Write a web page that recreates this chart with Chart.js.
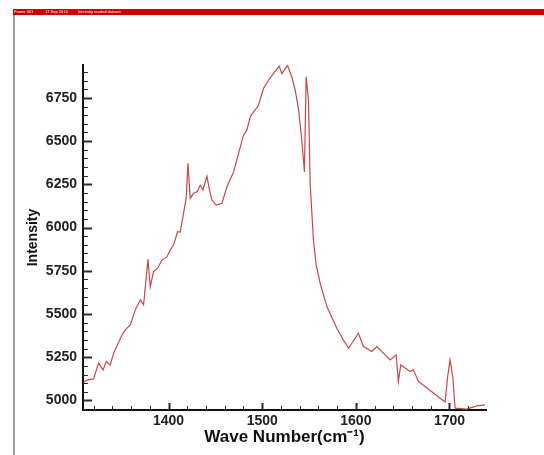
<!DOCTYPE html>
<html>
<head>
<meta charset="utf-8">
<script src="https://cdn.jsdelivr.net/npm/chart.js@4.4.1/dist/chart.umd.min.js"></script>
<style>
  html, body { margin: 0; padding: 0; background: #fff; }
  #wrap { position: relative; width: 544px; height: 455px; }
</style>
</head>
<body>
<div id="wrap"><canvas id="spectrumChart" width="544" height="455"></canvas></div>
<script>
// Spectrum data
const waveNumbers = [
  1309.2, 1313, 1319.9, 1325.2, 1330, 1333.5, 1337.7, 1341.3, 1350.2, 1353.7,
  1359.1, 1364.4, 1369.8, 1373.3, 1378, 1380.4, 1384, 1388.2, 1393, 1398.2,
  1401.8, 1405.3, 1409.6, 1412.4, 1415.3, 1418.8, 1420.7, 1423.1, 1426.6, 1430.3,
  1433.8, 1436.7, 1440.9, 1443.7, 1446.3, 1450.9, 1457, 1462.3, 1469.3, 1475.7,
  1480, 1483.6, 1487.2, 1490.7, 1496, 1501.4, 1506.7, 1512, 1518.1, 1521,
  1527, 1531.7, 1535.2, 1538.7, 1542.3, 1545.1, 1546.9, 1549.4, 1551.2, 1554.7,
  1557.6, 1561.9, 1569, 1579.7, 1586.7, 1592.1, 1595.7, 1602.7, 1608.1, 1617,
  1622.4, 1629.4, 1636.6, 1643, 1645.4, 1648, 1657.9, 1661.4, 1666.8, 1673.9,
  1682.8, 1695.3, 1698.1, 1700.6, 1703.5, 1706, 1718.4, 1729.1, 1737.9
]
const intensities = [
  5104, 5118, 5125, 5216, 5177, 5225, 5206, 5274, 5379, 5408,
  5437, 5524, 5582, 5553, 5816, 5658, 5745, 5765, 5812, 5830,
  5870, 5899, 5976, 5974, 6062, 6170, 6371, 6169, 6198, 6207,
  6245, 6217, 6297, 6217, 6159, 6130, 6140, 6236, 6320, 6448,
  6534, 6563, 6640, 6669, 6707, 6804, 6852, 6890, 6933, 6890,
  6938, 6871, 6794, 6688, 6505, 6322, 6871, 6736, 6255, 5928,
  5784, 5678, 5543, 5418, 5350, 5303, 5331, 5389, 5312, 5283,
  5312, 5274, 5235, 5264, 5110, 5206, 5167, 5177, 5110, 5081,
  5043, 4991, 5139, 5235, 5139, 4956, 4950, 4969, 4975
]

// Axis ticks
const xMajorTicks = [1400, 1500, 1600, 1700]
const xMinorStep = 20
const yMajorTicks = [5000, 5250, 5500, 5750, 6000, 6250, 6500, 6750]
const yMinorStep = 50

const headerParts = ["Frame 001", "17 Sep 2013", "Intensity readed dataset"]

const points = waveNumbers.map((w, i) => ({ x: w, y: intensities[i] }))

// Header bar and frame line
const framePlugin = {
  id: "framePlugin",
  beforeDraw(chart) {
    const ctx = chart.ctx
    ctx.save()
    ctx.fillStyle = "#d10000"
    ctx.fillRect(13, 9, 531, 6)
    ctx.fillStyle = "#fff"
    ctx.font = "4px 'Liberation Sans', Arial"
    ctx.textBaseline = "middle"
    const xs = [14, 45, 78]
    headerParts.forEach((t, i) => ctx.fillText(t, xs[i], 12))
    ctx.fillStyle = "#a0a0a0"
    ctx.fillRect(13, 15, 2, 440)
    ctx.restore()
  },
}

// Inward major / minor tick marks
const tickPlugin = {
  id: "tickPlugin",
  afterDraw(chart) {
    const { ctx, chartArea, scales } = chart
    const x = scales.x
    const y = scales.y
    ctx.save()
    ctx.strokeStyle = "#2a2a2a"
    for (let v = Math.ceil(y.min / yMinorStep) * yMinorStep; v <= y.max; v += yMinorStep) {
      const major = yMajorTicks.includes(v)
      const py = Math.round(y.getPixelForValue(v)) + 0.5
      ctx.lineWidth = major ? 2 : 1
      ctx.beginPath()
      ctx.moveTo(chartArea.left, py)
      ctx.lineTo(chartArea.left + (major ? 9 : 5), py)
      ctx.stroke()
    }
    for (let v = Math.ceil(x.min / xMinorStep) * xMinorStep; v <= x.max; v += xMinorStep) {
      const major = xMajorTicks.includes(v)
      const px = Math.round(x.getPixelForValue(v)) + 0.5
      ctx.lineWidth = major ? 2 : 1
      ctx.beginPath()
      ctx.moveTo(px, chartArea.bottom)
      ctx.lineTo(px, chartArea.bottom - (major ? 7 : 4))
      ctx.stroke()
    }
    ctx.restore()
  },
}

const labelFont = { family: "'Liberation Sans', Arial", size: 14, weight: "bold" }

const ctx = document.getElementById("spectrumChart").getContext("2d")

const spectrumChart = new Chart(ctx, {
  type: "line",
  data: {
    datasets: [
      {
        label: "Intensity",
        data: points,
        borderColor: "#c8474a",
        borderWidth: 1.2,
        pointRadius: 0,
        tension: 0,
        fill: false,
      },
    ],
  },
  options: {
    responsive: false,
    animation: false,
    devicePixelRatio: 1,
    layout: {
      padding: { left: 14, right: 58, top: 65, bottom: 0 },
    },
    plugins: {
      legend: { display: false },
      tooltip: { enabled: false },
    },
    scales: {
      x: {
        type: "linear",
        min: 1308.6,
        max: 1739,
        afterBuildTicks: (scale) => {
          scale.ticks = xMajorTicks.map((v) => ({ value: v }))
        },
        afterFit: (scale) => {
          scale.height = 45
        },
        grid: { display: false, drawTicks: false },
        border: { display: true, color: "#111", width: 2 },
        ticks: {
          autoSkip: false,
          maxRotation: 0,
          padding: 3,
          color: "#222",
          font: labelFont,
          callback: (v) => String(v),
        },
        title: {
          display: true,
          text: "Wave Number(cm\u207B\u00B9)",
          color: "#111",
          padding: { top: 0, bottom: 7 },
          font: { family: "'Liberation Sans', Arial", size: 17, weight: "bold" },
        },
      },
      y: {
        type: "linear",
        min: 4945,
        max: 6940,
        afterBuildTicks: (scale) => {
          scale.ticks = yMajorTicks.map((v) => ({ value: v }))
        },
        afterFit: (scale) => {
          scale.width = 69
        },
        grid: { display: false, drawTicks: false },
        border: { display: true, color: "#111", width: 2 },
        ticks: {
          padding: 6,
          color: "#222",
          font: labelFont,
          callback: (v) => String(v),
        },
        title: {
          display: true,
          text: "Intensity",
          color: "#111",
          padding: { top: 11, bottom: 0 },
          font: labelFont,
        },
      },
    },
  },
  plugins: [framePlugin, tickPlugin],
})
</script>
</body>
</html>
